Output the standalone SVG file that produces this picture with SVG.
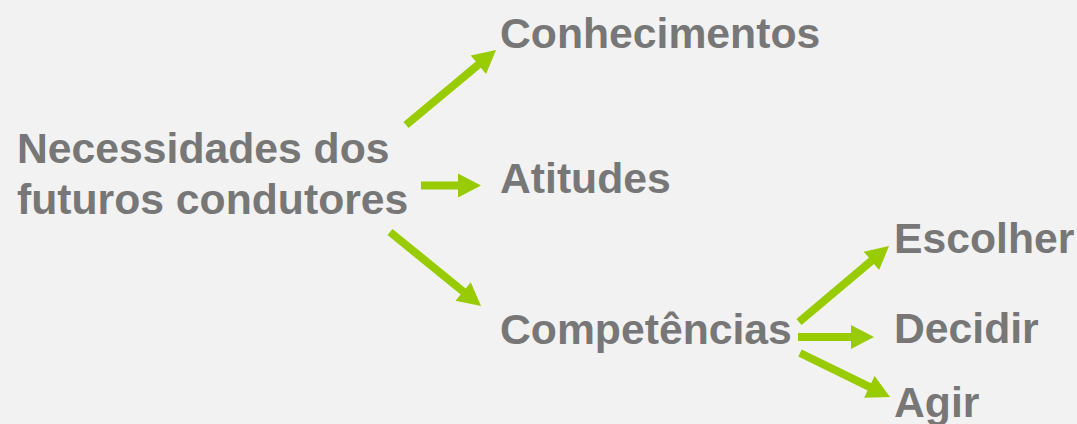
<svg xmlns="http://www.w3.org/2000/svg" width="1077" height="424" viewBox="0 0 1077 424">
<style>
text{font-family:"Liberation Sans",Arial,sans-serif;font-weight:bold;font-size:42.7px;fill:#777777}
.arr{fill:#99CC00}
</style>
<rect width="1077" height="424" fill="#F2F2F2"/>
<g id="connectors">
<path class="arr" transform="translate(406,125) rotate(-39.81)" d="M0,-4 L94.2,-4 L94.2,-12 L117.2,0 L94.2,12 L94.2,4 L0,4 Z"/>
<path class="arr" transform="translate(421,185.5)" d="M0,-4 L37,-4 L37,-12 L60,0 L37,12 L37,4 L0,4 Z"/>
<path class="arr" transform="translate(390,232) rotate(39.12)" d="M0,-4 L94.3,-4 L94.3,-12 L117.3,0 L94.3,12 L94.3,4 L0,4 Z"/>
<path class="arr" transform="translate(799,322) rotate(-40.18)" d="M0,-4 L94.8,-4 L94.8,-12 L117.8,0 L94.8,12 L94.8,4 L0,4 Z"/>
<path class="arr" transform="translate(798,337)" d="M0,-4 L53,-4 L53,-12 L76,0 L53,12 L53,4 L0,4 Z"/>
<path class="arr" transform="translate(800,353) rotate(26.05)" d="M0,-4 L77.2,-4 L77.2,-12 L100.2,0 L77.2,12 L77.2,4 L0,4 Z"/>
</g>
<g id="necessidades"><text x="17" y="163">Necessidades dos</text><text x="17" y="214">futuros condutores</text></g>
<g id="conhecimentos"><text x="500" y="48">Conhecimentos</text></g>
<g id="atitudes"><text x="500" y="193">Atitudes</text></g>
<g id="competencias"><text x="500" y="344">Competências</text></g>
<g id="escolher"><text x="894" y="253">Escolher</text></g>
<g id="decidir"><text x="894" y="343">Decidir</text></g>
<g id="agir"><text x="894" y="417">Agir</text></g>
</svg>
